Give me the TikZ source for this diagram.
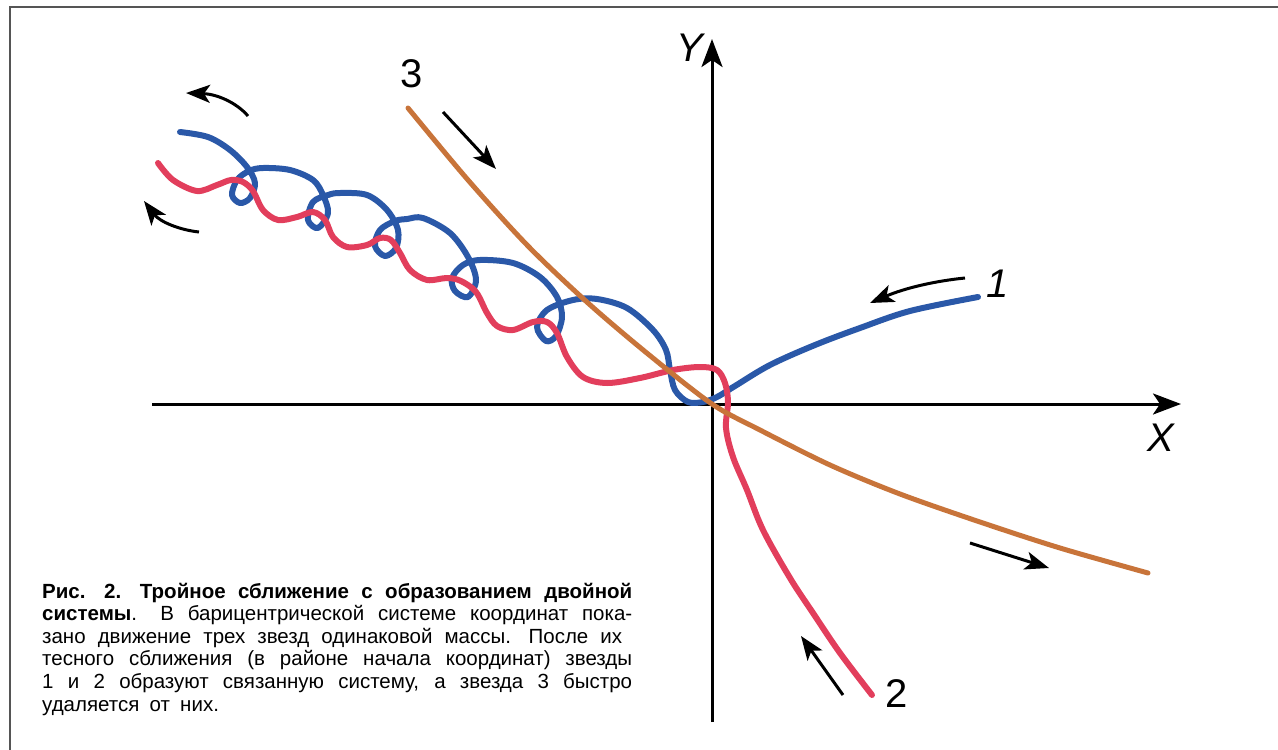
\documentclass[tikz,border=0pt]{standalone}
\usepackage{fontspec}
\setmainfont{Liberation Sans}
\usetikzlibrary{arrows.meta}
\definecolor{cblue}{RGB}{42,88,168}
\definecolor{cred}{RGB}{226,62,92}
\definecolor{corange}{RGB}{200,116,58}
\definecolor{cframe}{RGB}{85,85,85}
\tikzset{
  axisline/.style={line width=3pt,black,-{Stealth[length=28pt,width=21pt,inset=7pt]}},
  motion/.style={line width=3pt,black,-{Stealth[length=24pt,width=18pt,inset=6pt]}},
  orbit/.style={line width=6pt,line cap=round,line join=round},
  lbl/.style={inner sep=0pt,font=\fontsize{40}{40}\selectfont},
}
\begin{document}
\begin{tikzpicture}[x=1pt,y=-1pt]
\useasboundingbox (0,0) rectangle (1278,750);
% frame
\draw[cframe,line width=2pt] (10,750) -- (10,7) -- (1278,7);
% axes
\coordinate (xs) at (152,404);
\coordinate (xe) at (1181,404);
\coordinate (ys) at (712,722);
\coordinate (ye) at (712,39);
\draw[axisline] (xs) -- (xe);
\draw[axisline] (ys) -- (ye);
\node[lbl,font=\fontsize{40}{40}\selectfont\itshape] (X) at (1161,438) {X};
\node[lbl,font=\fontsize{40}{40}\selectfont\itshape] (Y) at (690,48) {Y};
% blue orbit (star 1)
\draw[orbit,cblue] plot[smooth,tension=0.55] coordinates {
(180,132) (208,137) (230,150) (247,167) (255,183) (250,198) (240,203) (232,195) (237,180) (249,171)
(263,168) (290,170) (313,180) (323,195) (328,213) (318,228) (308,220) (313,202) (328,195)
(340,193) (367,195) (387,210) (398,230) (396,248) (385,256) (375,246) (380,230) (395,221)
(407,219) (423,218) (450,233) (468,257) (476,280) (468,297) (455,291) (452,278) (463,265)
(480,260) (513,263) (540,277) (557,297) (562,317) (556,336) (546,341) (537,327) (547,310)
(573,300) (597,299) (627,308) (653,330) (666,350) (670,370) (675,390) (688,402) (703,402) (717,397)
(735,386) (770,365) (815,345) (860,328) (910,311) (978,297)};
% red orbit (star 2)
\draw[orbit,cred] plot[smooth,tension=0.55] coordinates {
(158,163) (173,180) (197,191) (217,185) (231,180) (243,182) (253,191) (263,210) (278,220)
(297,217) (313,212) (325,220) (333,237) (347,247) (367,245) (380,238) (391,240) (400,253)
(410,270) (427,280) (447,278) (461,281) (476,292) (487,313) (497,326) (513,330) (533,322)
(547,322) (557,333) (567,357) (583,377) (607,383) (640,378) (673,370) (700,367) (717,370)
(725,383) (728,402) (726,428) (733,457) (747,490) (763,530) (790,578) (813,613) (840,653) (872,695)};
% orange orbit (star 3)
\draw[orbit,corange,line width=5pt] plot[smooth,tension=0.5] coordinates {
(408,108) (468,180) (528,246) (588,303) (648,354) (712,404) (760,430) (830,465) (900,494) (980,522) (1060,548) (1148,573)};
% labels
\node[lbl] (L3) at (412,74) {3};
\node[lbl,font=\fontsize{40}{40}\selectfont\itshape] (L1) at (998,284) {1};
\node[lbl] (L2) at (897,694) {2};
% motion arrows
\coordinate (a1s) at (248,116); \coordinate (a1e) at (186,93);
\coordinate (a2s) at (199,232); \coordinate (a2e) at (144,201);
\coordinate (a3s) at (443,112); \coordinate (a3e) at (496,169);
\coordinate (a4s) at (965,278); \coordinate (a4e) at (870,303);
\coordinate (a5s) at (970,543); \coordinate (a5e) at (1049,568);
\coordinate (a6s) at (843,695); \coordinate (a6e) at (801,636);
\draw[motion] (a1s) .. controls (236,102) and (216,94) .. (a1e);
\draw[motion] (a2s) .. controls (180,230) and (160,222) .. (a2e);
\draw[motion] (a3s) -- (a3e);
\draw[motion] (a4s) .. controls (935,281) and (905,288) .. (a4e);
\draw[motion] (a5s) -- (a5e);
\draw[motion] (a6s) -- (a6e);
% caption
\node[anchor=base west,inner sep=0pt] (cap) at (42,598) {\parbox[t]{590pt}{\fontsize{20.5}{22.6}\selectfont
\spaceskip=.5em plus 1em
\hbox to 590pt{\textbf{Рис. 2. Тройное сближение с образованием двойной}}
\hbox to 590pt{\textbf{системы}. В барицентрической системе координат пока-}
\hbox to 580pt{зано движение трех звезд одинаковой массы. После их}
\hbox to 590pt{тесного сближения (в районе начала координат) звезды}
\hbox to 590pt{1 и 2 образуют связанную систему, а звезда 3 быстро}
\hbox{удаляется от них.}}};
\end{tikzpicture}
\end{document}
